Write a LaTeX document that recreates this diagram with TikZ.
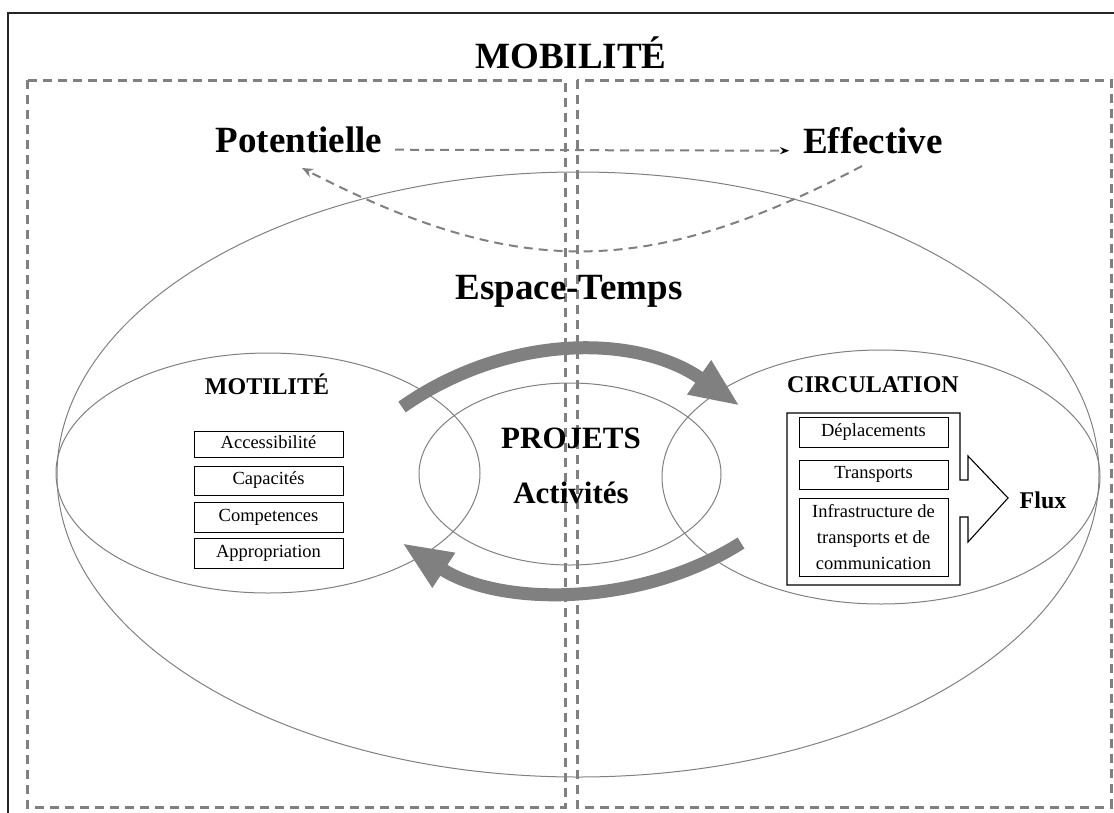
\documentclass[tikz,border=0pt]{standalone}
\usepackage{fontspec}
\setmainfont{Liberation Serif}
\usetikzlibrary{arrows.meta}
\definecolor{lgray}{HTML}{808080}
\begin{document}
\begin{tikzpicture}[x=1pt,y=-1pt,
  every node/.style={inner sep=0pt, outer sep=0pt},
  bigtxt/.style={font=\fontsize{37}{40}\selectfont\bfseries, anchor=base},
  midtxt/.style={font=\fontsize{31}{34}\selectfont\bfseries, anchor=base},
  smalltxt/.style={font=\fontsize{24}{27}\selectfont\bfseries, anchor=base},
  itembox/.style={draw=black, line width=0.9pt, minimum width=149pt, font=\fontsize{18.5}{26}\selectfont, text height=12.5pt, text depth=4pt},
  multibox/.style={draw=black, line width=0.9pt, minimum width=149pt, font=\fontsize{18.5}{26}\selectfont, align=center},
  zone/.style={draw=lgray, line width=3pt, dash pattern=on 9pt off 6pt},
  ring/.style={draw=lgray, line width=1pt},
  flow/.style={draw=lgray, color=lgray, line width=13pt, -{Triangle[length=50pt,width=38pt]}},
  dashline/.style={draw=lgray, line width=2pt, dash pattern=on 9pt off 6pt}
]
\clip (0,0) rectangle (1114,812);
% outer frame
\draw[black!85, line width=1.3pt] (8,13) rectangle (1130,830);
% zones
\draw[zone] (27,80) rectangle (565,807);
\draw[zone] (577,80) rectangle (1111,807);
% ellipses
\draw[ring] (578,474.5) ellipse [x radius=521, y radius=302.5];
\draw[ring] (268,473) ellipse [x radius=212, y radius=120];
\draw[ring] (881,477) ellipse [x radius=219, y radius=127];
\draw[ring] (570,474) ellipse [x radius=151, y radius=91];
% titles
\node[bigtxt] (title) at (571,68) {MOBILITÉ};
\node[bigtxt] (pot) at (299,152) {Potentielle};
\node[bigtxt] (eff) at (873,153) {Effective};
\node[bigtxt] (esp) at (569,299) {Espace-Temps};
% dashed arrows
\draw[dashline, -{Stealth[length=9pt,width=7pt,black]}] ([xshift=13pt]pot.mid east) -- ([xshift=-14pt]eff.mid west);
\coordinate (cs) at (862,166);
\coordinate (ce) at (302,168);
\draw[dashline, -{Stealth[length=11pt,width=9pt]}] (cs) .. controls (647,279) and (517,279) .. (ce);
% big gray arrows
\coordinate (ta) at (402,407);
\coordinate (tb) at (740,406);
\coordinate (ba) at (741,543);
\coordinate (bb) at (402,543);
\draw[flow] (ta) .. controls (506,334) and (636,333) .. (tb);
\draw[flow] (ba) .. controls (640,607) and (500,607) .. (bb);
% center
\node[midtxt] (proj) at (571,448) {PROJETS};
\node[midtxt] (act) at (571,503) {Activités};
% motilite
\node[smalltxt] (mot) at (267,394) {MOTILITÉ};
\node[itembox, minimum height=26pt] (b1) at (268.5,444.5) {Accessibilité};
\node[itembox, minimum height=29pt] (b2) at (268.5,480.5) {Capacités};
\node[itembox, minimum height=30pt] (b3) at (268.5,517) {Competences};
\node[itembox, minimum height=30pt] (b4) at (268.5,553) {Appropriation};
% circulation
\node[smalltxt] (circ) at (873,392) {CIRCULATION};
\draw[black, line width=1.1pt] (787,413) -- (960,413) -- (960,480) -- (968,480) -- (968,456) -- (1008,498) -- (968,542) -- (968,517) -- (960,517) -- (960,585) -- (787,585) -- cycle;
\node[itembox, minimum height=30pt] (c1) at (873.5,432) {Déplacements};
\node[itembox, minimum height=29pt] (c2) at (873.5,474.5) {Transports};
\node[multibox, minimum height=78pt] (c3) at (873.5,537) {Infrastructure de\\transports et de\\communication};
\node[smalltxt] (flux) at (1043,508) {Flux};
\end{tikzpicture}
\end{document}
